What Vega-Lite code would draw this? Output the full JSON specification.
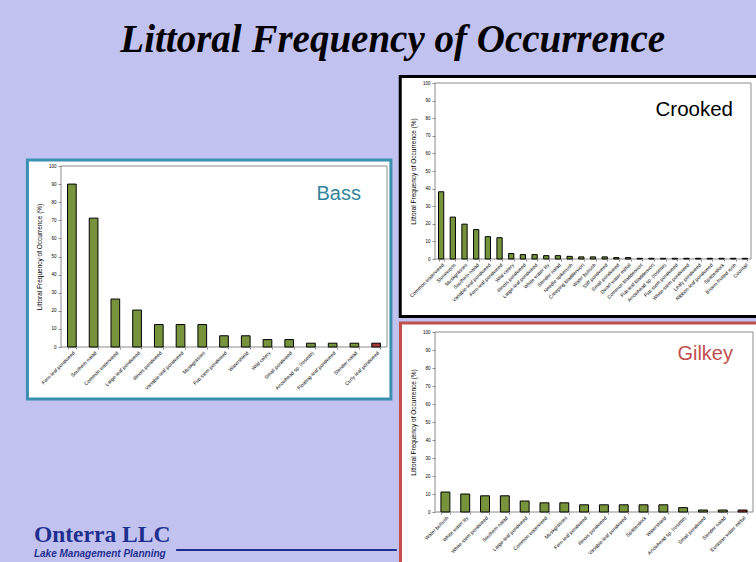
{
  "$schema": "https://vega.github.io/schema/vega-lite/v6.json",
  "background": "#c2c2f0",
  "padding": {"left": 25, "top": 20, "right": 0, "bottom": 0},
  "title": {"text": "Littoral Frequency of Occurrence", "font": "Liberation Serif", "fontSize": 39, "fontStyle": "italic", "fontWeight": "bold", "color": "#000000", "anchor": "middle", "offset": 15},
  "datasets": {
    "bass": [
      {"species": "Fern-leaf pondweed", "pct": 90, "status": "native"},
      {"species": "Southern naiad", "pct": 71.2, "status": "native"},
      {"species": "Common waterweed", "pct": 26.5, "status": "native"},
      {"species": "Large-leaf pondweed", "pct": 20.4, "status": "native"},
      {"species": "Illinois pondweed", "pct": 12.4, "status": "native"},
      {"species": "Variable-leaf pondweed", "pct": 12.4, "status": "native"},
      {"species": "Muskgrasses", "pct": 12.4, "status": "native"},
      {"species": "Flat-stem pondweed", "pct": 6.2, "status": "native"},
      {"species": "Watershield", "pct": 6.2, "status": "native"},
      {"species": "Wild celery", "pct": 4.1, "status": "native"},
      {"species": "Small pondweed", "pct": 4.1, "status": "native"},
      {"species": "Arrowhead sp. (rosette)", "pct": 2.1, "status": "native"},
      {"species": "Floating-leaf pondweed", "pct": 2.1, "status": "native"},
      {"species": "Slender naiad", "pct": 2.1, "status": "native"},
      {"species": "Curly-leaf pondweed", "pct": 2.1, "status": "invasive"}
    ],
    "crooked": [
      {"species": "Common waterweed", "pct": 38.2, "status": "native"},
      {"species": "Stoneworts", "pct": 23.8, "status": "native"},
      {"species": "Muskgrasses", "pct": 19.8, "status": "native"},
      {"species": "Southern naiad", "pct": 16.7, "status": "native"},
      {"species": "Variable-leaf pondweed", "pct": 12.7, "status": "native"},
      {"species": "Fern-leaf pondweed", "pct": 12.1, "status": "native"},
      {"species": "Wild celery", "pct": 3.1, "status": "native"},
      {"species": "Illinois pondweed", "pct": 2.5, "status": "native"},
      {"species": "Large-leaf pondweed", "pct": 2.5, "status": "native"},
      {"species": "White water lily", "pct": 1.9, "status": "native"},
      {"species": "Slender naiad", "pct": 1.9, "status": "native"},
      {"species": "Needle spikerush", "pct": 1.5, "status": "native"},
      {"species": "Creeping bladderwort", "pct": 1.2, "status": "native"},
      {"species": "Water bulrush", "pct": 1.2, "status": "native"},
      {"species": "Stiff pondweed", "pct": 1.2, "status": "native"},
      {"species": "Small pondweed", "pct": 0.8, "status": "native"},
      {"species": "Dwarf water milfoil", "pct": 0.8, "status": "native"},
      {"species": "Common bladderwort", "pct": 0.4, "status": "native"},
      {"species": "Flat-leaf bladderwort", "pct": 0.4, "status": "native"},
      {"species": "Arrowhead sp. (rosette)", "pct": 0.4, "status": "native"},
      {"species": "Flat-stem pondweed", "pct": 0.4, "status": "native"},
      {"species": "White-stem pondweed", "pct": 0.4, "status": "native"},
      {"species": "Leafy pondweed", "pct": 0.4, "status": "native"},
      {"species": "Ribbon-leaf pondweed", "pct": 0.4, "status": "native"},
      {"species": "Spatterdock", "pct": 0.4, "status": "native"},
      {"species": "Brown-fruited rush", "pct": 0.4, "status": "native"},
      {"species": "Coontail", "pct": 0.4, "status": "native"}
    ],
    "gilkey": [
      {"species": "Water bulrush", "pct": 11.1, "status": "native"},
      {"species": "White water lily", "pct": 10, "status": "native"},
      {"species": "White-stem pondweed", "pct": 9, "status": "native"},
      {"species": "Southern naiad", "pct": 9, "status": "native"},
      {"species": "Large-leaf pondweed", "pct": 6.1, "status": "native"},
      {"species": "Common waterweed", "pct": 5.1, "status": "native"},
      {"species": "Muskgrasses", "pct": 5.1, "status": "native"},
      {"species": "Fern-leaf pondweed", "pct": 4, "status": "native"},
      {"species": "Illinois pondweed", "pct": 4, "status": "native"},
      {"species": "Variable-leaf pondweed", "pct": 4, "status": "native"},
      {"species": "Spatterdock", "pct": 4, "status": "native"},
      {"species": "Watershield", "pct": 4, "status": "native"},
      {"species": "Arrowhead sp. (rosette)", "pct": 2.4, "status": "native"},
      {"species": "Small pondweed", "pct": 1.1, "status": "native"},
      {"species": "Slender naiad", "pct": 1.1, "status": "native"},
      {"species": "Eurasian water milfoil", "pct": 1.1, "status": "invasive"}
    ],
    "logo": [{"name": "Onterra LLC", "tag": "Lake Management Planning"}],
    "blank": [{"t": ""}]
  },
  "hconcat": [
    {
      "spacing": 0,
      "vconcat": [
        {
          "width": 100, "height": 75,
          "view": {"stroke": null, "fill": null},
          "data": {"name": "blank"},
          "mark": "text",
          "encoding": {"text": {"field": "t"}}
        },
        {
          "width": 326, "height": 181,
          "title": {"text": "Bass", "anchor": "end", "frame": "group", "offset": -45, "dx": -26, "fontSize": 20, "fontWeight": "normal", "font": "Liberation Sans", "color": "#31849b"},
          "layer": [
            {
              "data": {"name": "blank"},
              "mark": {"type": "rect", "fill": "#ffffff", "stroke": "#3b8fb0", "strokeWidth": 3},
              "encoding": {
                "x": {"datum": -0.103, "type": "quantitative", "scale": {"domain": [0, 1]}, "axis": null},
                "x2": {"datum": 1.012},
                "y": {"datum": 103.3, "type": "quantitative", "scale": {"domain": [0, 100]}, "axis": null},
                "y2": {"datum": -28.7}
              }
            },
            {
              "data": {"name": "blank"},
              "mark": {"type": "rect", "fill": null, "stroke": "#8c8c8c", "strokeWidth": 1},
              "encoding": {
                "x": {"datum": 0, "type": "quantitative", "scale": {"domain": [0, 1]}, "axis": null},
                "x2": {"datum": 1},
                "y": {"datum": 100, "type": "quantitative", "scale": {"domain": [0, 100]}, "axis": null},
                "y2": {"datum": 0}
              }
            },
            {
              "data": {"name": "bass"},
              "mark": {"type": "bar", "stroke": "#000000", "strokeWidth": 1},
              "encoding": {
                "x": {"field": "species", "type": "nominal", "sort": null, "scale": {"paddingInner": 0.6, "paddingOuter": 0.3}, "axis": {"title": null, "zindex": 2}},
                "y": {"field": "pct", "type": "quantitative", "scale": {"domain": [0, 100]}, "axis": {"title": "Littoral Frequency of Occurrence (%)", "zindex": 2, "values": [0, 10, 20, 30, 40, 50, 60, 70, 80, 90, 100], "labelOverlap": false}},
                "color": {"field": "status", "type": "nominal", "scale": {"domain": ["native", "invasive"], "range": ["#77933c", "#a33a36"]}, "legend": null}
              }
            }
          ],
          "resolve": {"scale": {"x": "independent"}, "axis": {"x": "independent", "y": "independent"}}
        },
        {
          "width": 326, "height": 158,
          "view": {"stroke": null, "fill": null},
          "data": {"name": "logo"},
          "layer": [
            {
              "mark": {"type": "rule", "stroke": "#1f2f8f", "strokeWidth": 2},
              "encoding": {
                "x": {"datum": 0.353, "type": "quantitative", "scale": {"domain": [0, 1]}, "axis": null},
                "x2": {"datum": 1.03},
                "y": {"datum": 0.057, "type": "quantitative", "scale": {"domain": [0, 1]}, "axis": null}
              }
            },
            {
              "mark": {"type": "text", "align": "left", "baseline": "alphabetic", "font": "Liberation Serif", "fontWeight": "bold", "fontSize": 23.5, "color": "#1f2f8f"},
              "encoding": {
                "x": {"datum": -0.083, "type": "quantitative"},
                "y": {"datum": 0.108, "type": "quantitative"},
                "text": {"field": "name"}
              }
            },
            {
              "mark": {"type": "text", "align": "left", "baseline": "alphabetic", "font": "Liberation Sans", "fontWeight": "bold", "fontStyle": "italic", "fontSize": 10, "color": "#1f2f8f"},
              "encoding": {
                "x": {"datum": -0.083, "type": "quantitative"},
                "y": {"datum": 0.013, "type": "quantitative"},
                "text": {"field": "tag"}
              }
            }
          ]
        }
      ]
    },
    {
      "spacing": 3,
      "vconcat": [
        {
          "width": 316, "height": 176,
          "title": {"text": "Crooked", "anchor": "end", "frame": "group", "offset": -46, "dx": -18, "fontSize": 20.5, "fontWeight": "normal", "font": "Liberation Sans", "color": "#000000"},
          "layer": [
            {
              "data": {"name": "blank"},
              "mark": {"type": "rect", "fill": "#ffffff", "stroke": "#000000", "strokeWidth": 3},
              "encoding": {
                "x": {"datum": -0.11, "type": "quantitative", "scale": {"domain": [0, 1]}, "axis": null},
                "x2": {"datum": 1.022},
                "y": {"datum": 103.7, "type": "quantitative", "scale": {"domain": [0, 100]}, "axis": null},
                "y2": {"datum": -32.6}
              }
            },
            {
              "data": {"name": "blank"},
              "mark": {"type": "rect", "fill": null, "stroke": "#8c8c8c", "strokeWidth": 1},
              "encoding": {
                "x": {"datum": 0, "type": "quantitative", "scale": {"domain": [0, 1]}, "axis": null},
                "x2": {"datum": 1},
                "y": {"datum": 100, "type": "quantitative", "scale": {"domain": [0, 100]}, "axis": null},
                "y2": {"datum": 0}
              }
            },
            {
              "data": {"name": "crooked"},
              "mark": {"type": "bar", "stroke": "#000000", "strokeWidth": 1},
              "encoding": {
                "x": {"field": "species", "type": "nominal", "sort": null, "scale": {"paddingInner": 0.55, "paddingOuter": 0.3}, "axis": {"title": null, "zindex": 2}},
                "y": {"field": "pct", "type": "quantitative", "scale": {"domain": [0, 100]}, "axis": {"title": "Littoral Frequency of Occurrence (%)", "zindex": 2, "values": [0, 10, 20, 30, 40, 50, 60, 70, 80, 90, 100], "labelOverlap": false}},
                "color": {"field": "status", "type": "nominal", "scale": {"domain": ["native", "invasive"], "range": ["#77933c", "#a33a36"]}, "legend": null}
              }
            }
          ],
          "resolve": {"scale": {"x": "independent"}, "axis": {"x": "independent", "y": "independent"}}
        },
        {
          "width": 318, "height": 180,
          "title": {"text": "Gilkey", "anchor": "end", "frame": "group", "offset": -42, "dx": -20, "fontSize": 20, "fontWeight": "normal", "font": "Liberation Sans", "color": "#c0504d"},
          "layer": [
            {
              "data": {"name": "blank"},
              "mark": {"type": "rect", "fill": "#ffffff", "stroke": "#c0504d", "strokeWidth": 3},
              "encoding": {
                "x": {"datum": -0.1085, "type": "quantitative", "scale": {"domain": [0, 1]}, "axis": null},
                "x2": {"datum": 1.016},
                "y": {"datum": 105, "type": "quantitative", "scale": {"domain": [0, 100]}, "axis": null},
                "y2": {"datum": -31.7}
              }
            },
            {
              "data": {"name": "blank"},
              "mark": {"type": "rect", "fill": null, "stroke": "#8c8c8c", "strokeWidth": 1},
              "encoding": {
                "x": {"datum": 0, "type": "quantitative", "scale": {"domain": [0, 1]}, "axis": null},
                "x2": {"datum": 1},
                "y": {"datum": 100, "type": "quantitative", "scale": {"domain": [0, 100]}, "axis": null},
                "y2": {"datum": 0}
              }
            },
            {
              "data": {"name": "gilkey"},
              "mark": {"type": "bar", "stroke": "#000000", "strokeWidth": 1},
              "encoding": {
                "x": {"field": "species", "type": "nominal", "sort": null, "scale": {"paddingInner": 0.55, "paddingOuter": 0.3}, "axis": {"title": null, "zindex": 2}},
                "y": {"field": "pct", "type": "quantitative", "scale": {"domain": [0, 100]}, "axis": {"title": "Littoral Frequency of Occurrence (%)", "zindex": 2, "values": [0, 10, 20, 30, 40, 50, 60, 70, 80, 90, 100], "labelOverlap": false}},
                "color": {"field": "status", "type": "nominal", "scale": {"domain": ["native", "invasive"], "range": ["#77933c", "#a33a36"]}, "legend": null}
              }
            }
          ],
          "resolve": {"scale": {"x": "independent"}, "axis": {"x": "independent", "y": "independent"}}
        }
      ]
    }
  ],
  "spacing": 0,
  "config": {
    "view": {"stroke": null, "fill": null},
    "axis": {
      "zindex": 2,
      "grid": false,
      "domain": false,
      "labelFont": "Liberation Sans",
      "titleFont": "Liberation Sans",
      "labelFontSize": 5,
      "titleFontSize": 6.5,
      "titleFontWeight": "normal",
      "labelColor": "#000000",
      "titleColor": "#000000",
      "tickColor": "#8c8c8c",
      "tickSize": 3,
      "labelPadding": 2
    },
    "axisX": {"labelAngle": -45, "tickBand": "extent", "tickSize": 2, "labelPadding": 1},
    "axisY": {"labelFontSize": 4.5, "titlePadding": 6}
  }
}
